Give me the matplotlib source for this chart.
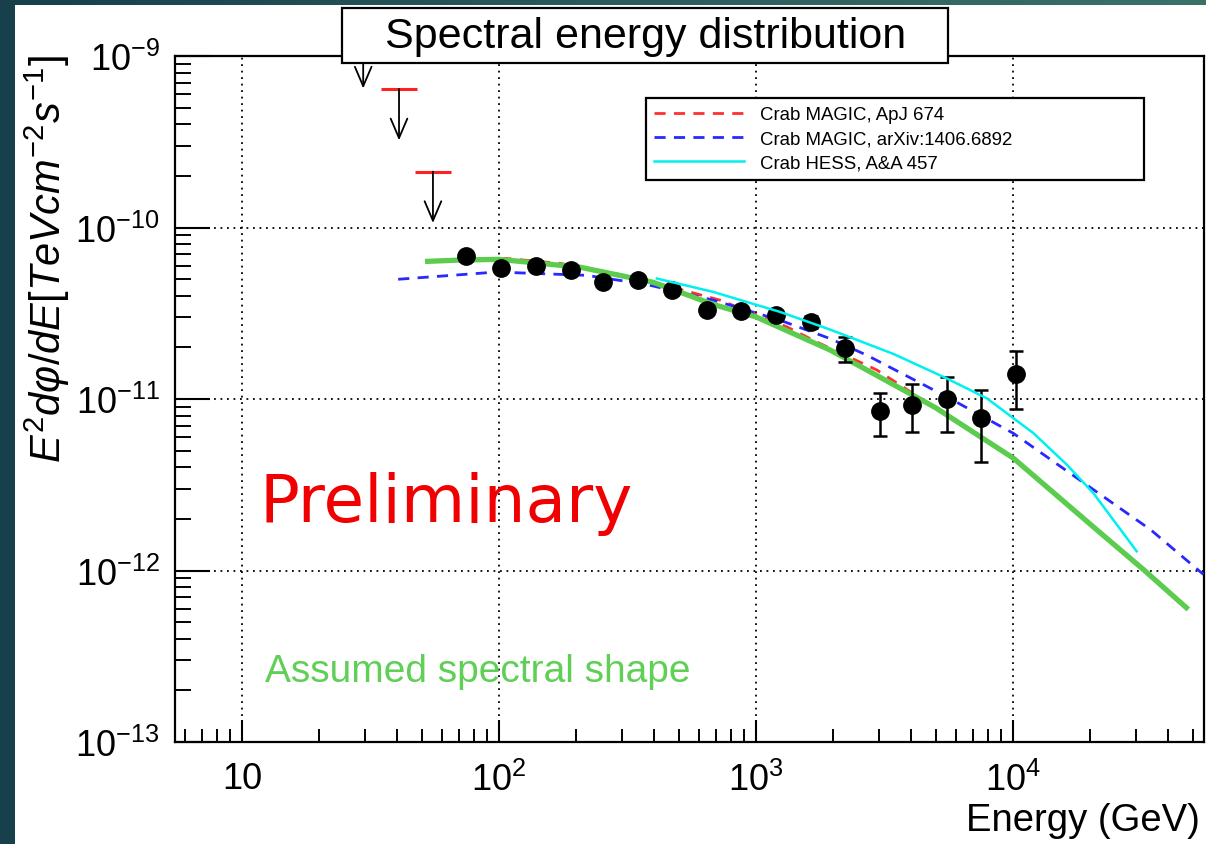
import numpy as np
import matplotlib
matplotlib.use('Agg')
import matplotlib.pyplot as plt
from matplotlib.patches import Rectangle
from matplotlib.colors import LinearSegmentedColormap
from matplotlib.ticker import LogLocator, FixedLocator, FixedFormatter, NullFormatter

plt.rcParams['font.family'] = ['Liberation Sans', 'DejaVu Sans']
plt.rcParams['mathtext.fontset'] = 'custom'
plt.rcParams['mathtext.rm'] = 'Liberation Sans'
plt.rcParams['mathtext.it'] = 'Liberation Sans:italic'
plt.rcParams['mathtext.bf'] = 'Liberation Sans:bold'
plt.rcParams['mathtext.sf'] = 'Liberation Sans'

# ---------------- data ----------------
sed_energy = [74.5, 101.6, 139, 190, 253, 347, 471, 643, 875, 1197, 1633,
              2219, 3034, 4046, 5520, 7530, 10280]
sed_flux = [6.78e-11, 5.78e-11, 6.0e-11, 5.62e-11, 4.81e-11, 4.92e-11, 4.3e-11,
            3.32e-11, 3.26e-11, 3.07e-11, 2.82e-11,
            1.97e-11, 8.5e-12, 9.2e-12, 1.0e-11, 7.8e-12, 1.39e-11]
sed_flux_low = [6.4e-11, 5.5e-11, 5.7e-11, 5.35e-11, 4.55e-11, 4.65e-11, 4.05e-11,
                3.12e-11, 3.06e-11, 2.87e-11, 2.6e-11,
                1.65e-11, 6.1e-12, 6.4e-12, 6.4e-12, 4.3e-12, 8.8e-12]
sed_flux_high = [7.2e-11, 6.1e-11, 6.35e-11, 5.95e-11, 5.1e-11, 5.2e-11, 4.55e-11,
                 3.52e-11, 3.46e-11, 3.28e-11, 3.05e-11,
                 2.30e-11, 1.09e-11, 1.23e-11, 1.35e-11, 1.13e-11, 1.91e-11]

ul_energy = [29.6, 40.8, 55.3]
ul_flux = [1.29e-9, 6.43e-10, 2.12e-10]

assumed_energy = [51.5, 70.8, 100, 206.5, 398, 681, 1000, 1941, 2698, 5012,
                  10023, 21830, 32140, 48080]
assumed_flux = [6.34e-11, 6.46e-11, 6.52e-11, 5.87e-11, 4.79e-11, 3.56e-11, 3.01e-11,
                1.93e-11, 1.476e-11, 8.87e-12, 4.52e-12, 1.66e-12, 1.014e-12, 5.93e-13]

magic08_energy = [60, 105.4, 172.6, 278, 397, 724, 1321, 1722, 2951, 4898, 9162]
magic08_flux = [6.34e-11, 6.61e-11, 6.18e-11, 5.42e-11, 4.81e-11, 3.77e-11, 2.63e-11,
                2.15e-11, 1.476e-11, 9.02e-12, 4.94e-12]

magic15_energy = [40.5, 97.9, 219, 376, 682, 1239, 1941, 2698, 5521, 10023,
                  20560, 34280, 55080]
magic15_flux = [4.99e-11, 5.50e-11, 5.26e-11, 4.65e-11, 3.77e-11, 2.88e-11, 2.25e-11,
                1.80e-11, 1.03e-11, 6.31e-12, 2.96e-12, 1.73e-12, 9.48e-13]

hess_energy = [411, 682, 1239, 1941, 3428, 5521, 7907, 12020, 16220, 20560, 30270]
hess_flux = [5.04e-11, 4.21e-11, 3.22e-11, 2.54e-11, 1.83e-11, 1.318e-11, 1.009e-11,
             6.31e-12, 4.13e-12, 2.82e-12, 1.294e-12]

legend_labels = ['Crab MAGIC, ApJ 674', 'Crab MAGIC, arXiv:1406.6892', 'Crab HESS, A&A 457']
x_ticks = [10, 100, 1000, 10000]
x_ticklabels = ['10', '$10^{2}$', '$10^{3}$', '$10^{4}$']
y_ticks = [1e-13, 1e-12, 1e-11, 1e-10, 1e-9]
y_ticklabels = ['$10^{-13}$', '$10^{-12}$', '$10^{-11}$', '$10^{-10}$', '$10^{-9}$']

# ---------------- figure ----------------
W, H = 1206, 845
fig = plt.figure(figsize=(W / 100, H / 100), dpi=100, facecolor='white')

# slide background strips
fig.add_artist(Rectangle((0, 0), 15 / W, 1, transform=fig.transFigure,
                         facecolor='#173f4c', edgecolor='none', zorder=0))
ax_top = fig.add_axes([0, 1 - 6 / H, 1, 6 / H])
cmap = LinearSegmentedColormap.from_list('teal', ['#183f4c', '#2a5a5c', '#3a7268'])
ax_top.imshow(np.linspace(0, 1, 256)[None, :], aspect='auto', cmap=cmap,
              extent=[0, 1, 0, 1])
ax_top.set_axis_off()

ax = fig.add_axes([175 / W, 1 - 743 / H, (1204 - 175) / W, (743 - 57) / H])
ax.set_xscale('log')
ax.set_yscale('log')
ax.set_xlim(10 ** 0.739, 10 ** 4.743)
ax.set_ylim(1e-13, 1e-9)

# grid
for xv in x_ticks:
    ax.axvline(xv, color='black', lw=1.3, ls=(0, (1, 2.6)), zorder=1)
for yv in y_ticks[1:-1]:
    ax.axhline(yv, color='black', lw=1.3, ls=(0, (1, 2.6)), zorder=1)

# model curves
ax.plot(magic08_energy, magic08_flux, color='#ff3030', lw=2, ls=(0, (4, 3)), zorder=3,
        label=legend_labels[0])
ax.plot(magic15_energy, magic15_flux, color='#2828ff', lw=2, ls=(0, (4, 3)), zorder=3,
        label=legend_labels[1])
ax.plot(hess_energy, hess_flux, color='#00f0f0', lw=1.8, zorder=4.5,
        label=legend_labels[2])
ax.plot(assumed_energy, assumed_flux, color='#5ccc4e', lw=3.8, zorder=3.5,
        solid_capstyle='butt')

# data points
sed_e = np.array(sed_energy)
sed_f = np.array(sed_flux)
yerr = [sed_f - np.array(sed_flux_low), np.array(sed_flux_high) - sed_f]
ax.errorbar(sed_e, sed_f, yerr=yerr, fmt='o', color='black', ms=12.5, elinewidth=1.8,
            capsize=5, capthick=1.8, zorder=4)

# upper limits
ul_e = np.array(ul_energy)
ul_f = np.array(ul_flux)
ax.hlines(ul_f, ul_e / 10 ** 0.07, ul_e * 10 ** 0.07, colors='#ff2020', lw=2.2, zorder=4)
for e, f in zip(ul_e, ul_f):
    ax.annotate('', xy=(e, f / 10 ** 0.30), xytext=(e, f),
                arrowprops=dict(arrowstyle='->,head_length=1.4,head_width=0.6',
                                color='black', lw=1.3, shrinkA=0, shrinkB=0,
                                mutation_scale=10),
                zorder=4)

# axes styling
for side in ['top', 'right', 'left', 'bottom']:
    ax.spines[side].set_linewidth(1.6)
ax.xaxis.set_major_locator(FixedLocator(x_ticks))
ax.xaxis.set_major_formatter(FixedFormatter(x_ticklabels))
ax.xaxis.set_minor_locator(LogLocator(base=10, subs=np.arange(2, 10), numticks=20))
ax.xaxis.set_minor_formatter(NullFormatter())
ax.yaxis.set_major_locator(FixedLocator(y_ticks))
ax.yaxis.set_major_formatter(FixedFormatter(y_ticklabels))
ax.yaxis.set_minor_locator(LogLocator(base=10, subs=np.arange(2, 10), numticks=20))
ax.yaxis.set_minor_formatter(NullFormatter())
ax.tick_params(axis='x', which='major', direction='in', length=16, width=1.5,
               labelsize=26, pad=14, top=False)
ax.tick_params(axis='x', which='minor', direction='in', length=9.5, width=1.4, top=False)
ax.tick_params(axis='y', which='major', direction='in', length=25, width=1.5,
               labelsize=26, pad=11, right=False)
ax.tick_params(axis='y', which='minor', direction='in', length=11.5, width=1.4, right=False)

ax.set_xlabel('Energy (GeV)', fontsize=27.5, loc='right')
ax.xaxis.set_label_coords(0.996, -0.088)
ax.set_ylabel(r'$E^{2}dφ/dE[TeVcm^{-2}s^{-1}]$', fontsize=30)
ax.yaxis.set_label_coords(-0.100, 0.706)

# legend
leg = ax.legend(loc='upper left', bbox_to_anchor=((646 - 175) / 1029, (743 - 99) / 686,
                                                  (1144 - 646) / 1029, 0.0),
                mode='expand', borderaxespad=0, fancybox=False, framealpha=1,
                edgecolor='black', fontsize=13.4, handlelength=4.8, handletextpad=0.85,
                labelspacing=0.38, borderpad=0.45)
leg.get_frame().set_linewidth(1.6)
leg.set_zorder(6)

# title box
fig.add_artist(Rectangle((342 / W, 1 - 64 / H), (948 - 342) / W, (64 - 9) / H,
                         transform=fig.transFigure, facecolor='white',
                         edgecolor='black', lw=1.6, zorder=5))
fig.text(646 / W, 1 - 37 / H, 'Spectral energy distribution', fontsize=31,
         ha='center', va='center', zorder=6)

# overlay annotations
fig.text(260 / W, 1 - 522 / H, 'Preliminary', fontsize=47.5, color='#f00000',
         family=['DejaVu Sans'], ha='left', va='baseline', zorder=6)
fig.text(265 / W, 1 - 682 / H, 'Assumed spectral shape', fontsize=28,
         color='#5fcf55', ha='left', va='baseline', zorder=6)

fig.savefig('out.png', dpi=100, facecolor='white')
